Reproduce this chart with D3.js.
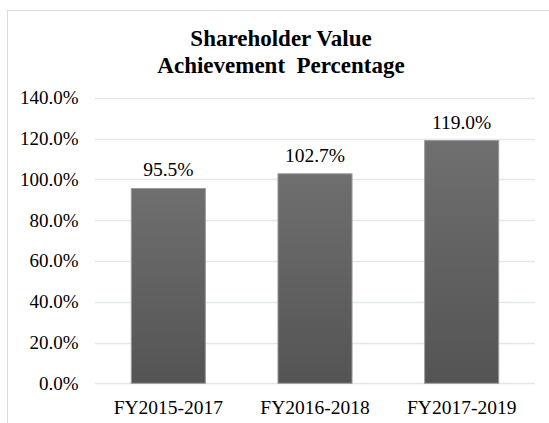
<!DOCTYPE html>
<html>
<head>
<meta charset="utf-8">
<script src="https://cdn.jsdelivr.net/npm/d3@7"></script>
<style>
  html, body { margin: 0; padding: 0; background: #ffffff; }
  svg { display: block; }
</style>
</head>
<body>
<div id="chart"></div>
<script>
const categories = ["FY2015-2017", "FY2016-2018", "FY2017-2019"];
const values = [95.5, 102.7, 119.0];
const valueLabels = ["95.5%", "102.7%", "119.0%"];
const yTicks = [0, 20, 40, 60, 80, 100, 120, 140];
const titleLines = ["Shareholder Value", "Achievement\u00a0 Percentage"];

const W = 549, H = 423;
const svg = d3.select("#chart").append("svg").attr("width", W).attr("height", H);

const defs = svg.append("defs");
const grad = defs.append("linearGradient").attr("id", "barGrad")
  .attr("x1", 0).attr("y1", 0).attr("x2", 0).attr("y2", 1);
grad.append("stop").attr("offset", "0%").attr("stop-color", "#6f6f6f");
grad.append("stop").attr("offset", "100%").attr("stop-color", "#545454");

// chart border
svg.append("rect").attr("x", 7.5).attr("y", 10.5).attr("width", 600).attr("height", 500)
  .attr("fill", "none").attr("stroke", "#d9dde3").attr("stroke-width", 1);

const x = d3.scaleBand().domain(categories).range([95, 535]).paddingInner(0.495).paddingOuter(0.2475);
const y = d3.scaleLinear().domain([0, 140]).range([383.3, 97.7]);

const font = "'Liberation Serif', 'Times New Roman', serif";

// gridlines
svg.append("g").selectAll("line").data(yTicks).join("line")
  .attr("x1", 95).attr("x2", 535)
  .attr("y1", d => Math.round(y(d)) + 0.5).attr("y2", d => Math.round(y(d)) + 0.5)
  .attr("stroke", "#e3e6ea").attr("stroke-width", 1.3);

// y axis labels
const yAxis = d3.axisLeft(y).tickValues(yTicks).tickSize(0).tickPadding(0)
  .tickFormat(d => d.toFixed(1) + "%");
const gy = svg.append("g").attr("transform", "translate(78.5,0)").call(yAxis);
gy.select(".domain").remove();
gy.selectAll("text").attr("font-family", font).attr("font-size", 19).attr("fill", "#000")
  .attr("dy", "0.32em");

// bars
svg.append("g").selectAll("rect").data(values).join("rect")
  .attr("x", (d, i) => x(categories[i]))
  .attr("width", x.bandwidth())
  .attr("y", d => y(d))
  .attr("height", d => y(0) - y(d))
  .attr("fill", "url(#barGrad)")
  .attr("stroke", "#9a9a9a").attr("stroke-width", 1);

// value labels
svg.append("g").selectAll("text").data(values).join("text")
  .attr("x", (d, i) => x(categories[i]) + x.bandwidth() / 2)
  .attr("y", d => y(d) - 12)
  .attr("text-anchor", "middle")
  .attr("font-family", font).attr("font-size", 19.5).attr("fill", "#000")
  .text((d, i) => valueLabels[i]);

// x axis labels
const xAxis = d3.axisBottom(x).tickSize(0).tickPadding(0);
const gx = svg.append("g").attr("transform", "translate(0,408)").call(xAxis);
gx.select(".domain").remove();
gx.selectAll("text").attr("font-family", font).attr("font-size", 19.5).attr("fill", "#000")
  .attr("dy", "0.32em");

// title
svg.append("g").selectAll("text").data(titleLines).join("text")
  .attr("x", 281).attr("y", (d, i) => 46 + i * 27)
  .attr("text-anchor", "middle")
  .attr("font-family", font).attr("font-weight", "bold").attr("font-size", 23).attr("fill", "#000")
  .text(d => d);
</script>
</body>
</html>
